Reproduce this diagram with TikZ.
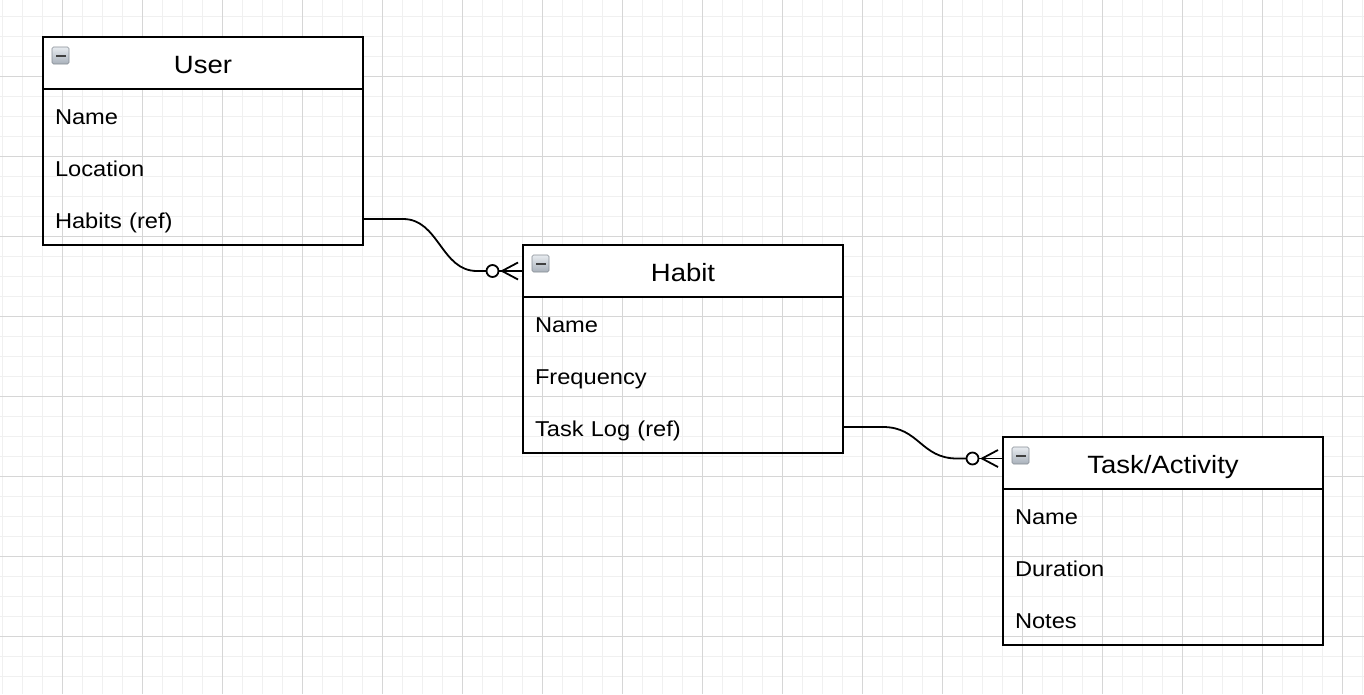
\documentclass[tikz,border=0pt]{standalone}
\usepackage{fontspec}
\setmainfont{Liberation Sans}[FakeStretch=1.1]
\usetikzlibrary{calc,fit}
\definecolor{gridminor}{HTML}{F0F0F0}
\definecolor{gridmajor}{HTML}{D6D6D6}
\definecolor{iconlight}{HTML}{E8ECF0}
\definecolor{icondark}{HTML}{A8B0BA}
\tikzset{
  every picture/.style={x=1pt,y=-1pt},
  hdr/.style={draw=black, fill=white, line width=2pt, minimum width=320pt, minimum height=52pt,
    inner sep=0pt, outer sep=0pt, anchor=north west, text height=22pt, text depth=0.4pt,
    font=\fontsize{25}{28}\selectfont},
  rowitem/.style={text width=296pt, inner xsep=12pt, inner ysep=0pt, outer sep=0pt, minimum height=52pt,
    text height=23.5pt, text depth=4pt,
    align=left, anchor=north west, font=\fontsize{21.5}{25}\selectfont},
  bodybox/.style={draw=black, line width=2pt, inner sep=0pt, outer sep=0pt},
  conn/.style={draw=black, line width=1.8pt},
  icon/.pic={
    \shade[top color=iconlight, bottom color=icondark, draw=icondark!80!black, line width=0.6pt, rounded corners=1.5pt]
      (0,0) rectangle (17,17);
    \fill[black!75] (3.5,7.6) rectangle (13.5,9.6);
  }
}
\begin{document}
\begin{tikzpicture}
\useasboundingbox (0,0) rectangle (1364,694);
% grid
\foreach \x in {2,22,...,1362} \draw[gridminor, line width=0.8pt] (\x,0) -- (\x,694);
\foreach \y in {16,36,...,694} \draw[gridminor, line width=0.8pt] (0,\y) -- (1364,\y);
\foreach \x in {62,142,...,1362} \draw[gridmajor, line width=0.8pt] (\x,0) -- (\x,694);
\foreach \y in {76,156,...,694} \draw[gridmajor, line width=0.8pt] (0,\y) -- (1364,\y);

% User
\node[hdr] (user) at (43,37) {User};
\node[rowitem] (uname) at (43,89) {Name};
\node[rowitem] (uloc) at (43,141) {Location};
\node[rowitem] (uhab) at (43,193) {Habits (ref)};
\node[bodybox, fit=(uname)(uhab)] (userbody) {};
\pic at ($(user.north west)+(9,10)$) {icon};

% Habit
\node[hdr] (habit) at (523,245) {Habit};
\node[rowitem] (hname) at (523,297) {Name};
\node[rowitem] (hfreq) at (523,349) {Frequency};
\node[rowitem] (hlog) at (523,401) {Task Log (ref)};
\node[bodybox, fit=(hname)(hlog)] (habitbody) {};
\pic at ($(habit.north west)+(9,10)$) {icon};

% Task/Activity
\node[hdr] (task) at (1003,437) {Task/Activity};
\node[rowitem] (tname) at (1003,489) {Name};
\node[rowitem] (tdur) at (1003,541) {Duration};
\node[rowitem] (tnotes) at (1003,593) {Notes};
\node[bodybox, fit=(tname)(tnotes)] (taskbody) {};
\pic at ($(task.north west)+(9,10)$) {icon};

% connector User -> Habit
\coordinate (e1) at (habit.west);
\draw[conn] (uhab.east) -- ++(40,0) .. controls +(36,0) and +(-36,0) .. ($(e1)+(-46,0)$) -- ($(e1)+(-36.5,0)$);
\draw[conn] ($(e1)+(-30.5,0)$) circle (6);
\draw[conn] ($(e1)+(-24.5,0)$) -- (e1);
\draw[conn] ($(e1)+(-5,-8.5)$) -- ($(e1)+(-21,0)$) -- ($(e1)+(-5,8.5)$);

% connector Habit -> Task
\coordinate (e2) at ($(task.west)+(0,-4.5)$);
\draw[conn] (hlog.east) -- ++(40,0) .. controls +(36,0) and +(-36,0) .. ($(e2)+(-46,0)$) -- ($(e2)+(-36.5,0)$);
\draw[conn] ($(e2)+(-30.5,0)$) circle (6);
\draw[conn] ($(e2)+(-24.5,0)$) -- (e2);
\draw[conn] ($(e2)+(-5,-8.5)$) -- ($(e2)+(-21,0)$) -- ($(e2)+(-5,8.5)$);
\end{tikzpicture}
\end{document}
